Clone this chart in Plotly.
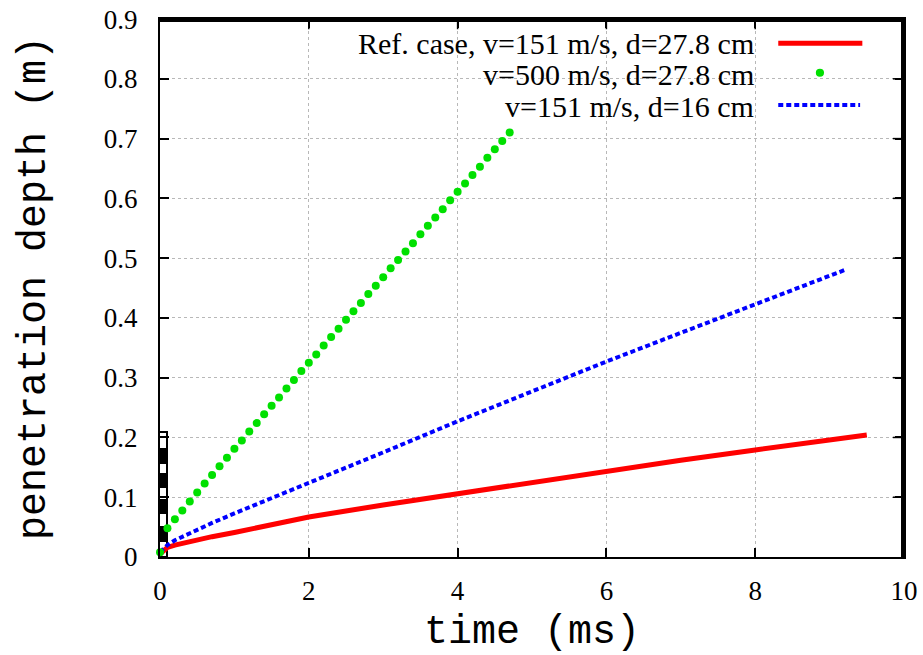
import plotly.graph_objects as go

# ---------------- data ----------------
t_ref = [0.0, 0.05, 0.1, 0.2, 0.4, 0.7, 1.0, 1.5, 2.0, 3.0, 4.0, 5.0, 6.0, 7.0, 8.0, 9.0, 9.5]
d_ref = [0.005, 0.012, 0.016, 0.020, 0.026, 0.034, 0.041, 0.055, 0.067, 0.087, 0.106, 0.125,
         0.144, 0.162, 0.179, 0.196, 0.204]

t_fast = [0.0, 0.1, 0.2, 0.3, 0.4, 0.5, 0.6, 0.7, 0.8, 0.9, 1.0, 1.1, 1.2, 1.3, 1.4, 1.5,
          1.6, 1.7, 1.8, 1.9, 2.0, 2.1, 2.2, 2.3, 2.4, 2.5, 2.6, 2.7, 2.8, 2.9, 3.0, 3.1,
          3.2, 3.3, 3.4, 3.5, 3.6, 3.7, 3.8, 3.9, 4.0, 4.1, 4.2, 4.3, 4.4, 4.5, 4.6, 4.7]
d_fast = [0.008, 0.048, 0.063, 0.078, 0.093, 0.108, 0.123, 0.137, 0.152, 0.166, 0.181, 0.195,
          0.210, 0.224, 0.239, 0.253, 0.267, 0.282, 0.296, 0.311, 0.325, 0.339, 0.354, 0.368,
          0.382, 0.397, 0.411, 0.425, 0.440, 0.454, 0.468, 0.483, 0.497, 0.511, 0.525, 0.540,
          0.554, 0.568, 0.582, 0.597, 0.611, 0.625, 0.639, 0.653, 0.668, 0.682, 0.696, 0.710]

t_thin = [0.0, 0.05, 0.1, 0.2, 0.4, 0.7, 1.0, 1.5, 2.0, 3.0, 4.0, 5.0, 6.0, 7.0, 8.0, 9.0, 9.2]
d_thin = [0.008, 0.014, 0.020, 0.028, 0.040, 0.057, 0.073, 0.099, 0.124, 0.175, 0.227, 0.277,
          0.327, 0.375, 0.423, 0.471, 0.480]

labels = ["Ref. case, v=151 m/s, d=27.8 cm", "v=500 m/s, d=27.8 cm", "v=151 m/s, d=16 cm"]

# layered target bar at t=0 (segment edges, m) and colours
bar_edges = [0.0, 0.027, 0.050, 0.073, 0.095, 0.117, 0.139, 0.158, 0.181, 0.209]
bar_colors = ["white", "black", "white", "black", "white", "black", "white", "black", "white"]

x_range = [0, 10]
y_range = [0, 0.9001]
x_ticks = [0, 2, 4, 6, 8, 10]
y_ticks = [0, 0.1, 0.2, 0.3, 0.4, 0.5, 0.6, 0.7, 0.8, 0.9]

RED, GREEN, BLUE = "#ff0000", "#00e000", "#0000ff"
SERIF = "Liberation Serif"
MONO = "Liberation Mono"

fig = go.Figure()

# target bar
fig.add_trace(go.Bar(
    x=[0.03] * (len(bar_edges) - 1),
    y=[bar_edges[i + 1] - bar_edges[i] for i in range(len(bar_edges) - 1)],
    base=bar_edges[:-1],
    width=0.12,
    marker=dict(color=bar_colors, line=dict(color="black", width=2)),
    cliponaxis=False, showlegend=False, hoverinfo="skip",
))

fig.add_trace(go.Scatter(x=t_ref, y=d_ref, mode="lines", name=labels[0],
                         line=dict(color=RED, width=5), showlegend=False))
fig.add_trace(go.Scatter(x=t_thin, y=d_thin, mode="lines", name=labels[2],
                         line=dict(color=BLUE, width=4, dash="5px,3px"), showlegend=False))
fig.add_trace(go.Scatter(x=t_fast, y=d_fast, mode="markers", name=labels[1],
                         marker=dict(color=GREEN, size=8), cliponaxis=False, showlegend=False))

# top/right frame drawn on a hidden overlay axis pair spanning the plot area
fig.add_trace(go.Scatter(x=[0, 0.998, 0.998], y=[0.997, 0.997, 0], mode="lines",
                         xaxis="x2", yaxis="y2", line=dict(color="black", width=3),
                         showlegend=False, hoverinfo="skip"))

# ---- custom gnuplot-style key (text right, sample left) ----
shapes = [
    dict(type="rect", xref="paper", yref="paper", x0=0.218, x1=0.965, y0=0.803, y1=0.985,
         fillcolor="white", line=dict(width=0), layer="between"),
    dict(type="line", xref="paper", yref="paper", x0=0.831, x1=0.944, y0=0.955, y1=0.955,
         line=dict(color=RED, width=5)),
    dict(type="line", xref="paper", yref="paper", x0=0.831, x1=0.941, y0=0.840, y1=0.840,
         line=dict(color=BLUE, width=4, dash="5px,3px")),
    dict(type="circle", xref="paper", yref="paper", x0=0.8815, x1=0.8925, y0=0.8925, y1=0.9075,
         fillcolor=GREEN, line=dict(width=0)),
]
# top/right inner ticks (gnuplot mirrors tics)
for xv in x_ticks[1:-1]:
    shapes.append(dict(type="line", xref="x", yref="paper", x0=xv, x1=xv, y0=0.981, y1=0.997,
                       line=dict(color="black", width=1.5), layer="above"))
for yv in y_ticks[1:-1]:
    shapes.append(dict(type="line", xref="paper", yref="y", x0=0.985, x1=0.998, y0=yv, y1=yv,
                       line=dict(color="black", width=1.5), layer="above"))

annotations = []
for lab, yy in zip(labels, [0.955, 0.896, 0.838]):
    annotations.append(dict(text=lab, xref="paper", yref="paper", x=0.801, y=yy,
                            xanchor="right", yanchor="middle", showarrow=False,
                            font=dict(family=SERIF, size=30, color="black")))

axis_common = dict(
    showline=True, linecolor="black", linewidth=2, mirror="ticks",
    ticks="inside", ticklen=9, tickwidth=1.5, tickcolor="black",
    showgrid=True, gridcolor="#b8b8b8", gridwidth=1, griddash="dot",
    zeroline=False, tickfont=dict(family=SERIF, size=27, color="black"),
    automargin=False,
)
hidden_axis = dict(range=[0, 1], visible=False, showgrid=False, zeroline=False,
                   fixedrange=True)

fig.update_layout(
    width=923, height=655,
    margin=dict(l=160, r=19, t=19, b=98),
    paper_bgcolor="white", plot_bgcolor="white",
    barmode="overlay", bargap=0,
    shapes=shapes, annotations=annotations,
    xaxis=dict(range=x_range, tickvals=x_ticks, ticklabelstandoff=9,
               title=dict(text="time (ms)", font=dict(family=MONO, size=40, color="black"),
                          standoff=25),
               **axis_common),
    yaxis=dict(range=y_range, tickvals=y_ticks, ticklabelstandoff=15,
               title=dict(text="penetration depth (m)",
                          font=dict(family=MONO, size=40, color="black"), standoff=46),
               **axis_common),
    xaxis2=dict(overlaying="x", anchor="y2", **hidden_axis),
    yaxis2=dict(overlaying="y", anchor="x2", **hidden_axis),
)

fig.write_html(
    "out.html",
    config={"displayModeBar": False},
    post_script="document.body.style.margin='0';document.body.style.overflow='hidden';",
)
